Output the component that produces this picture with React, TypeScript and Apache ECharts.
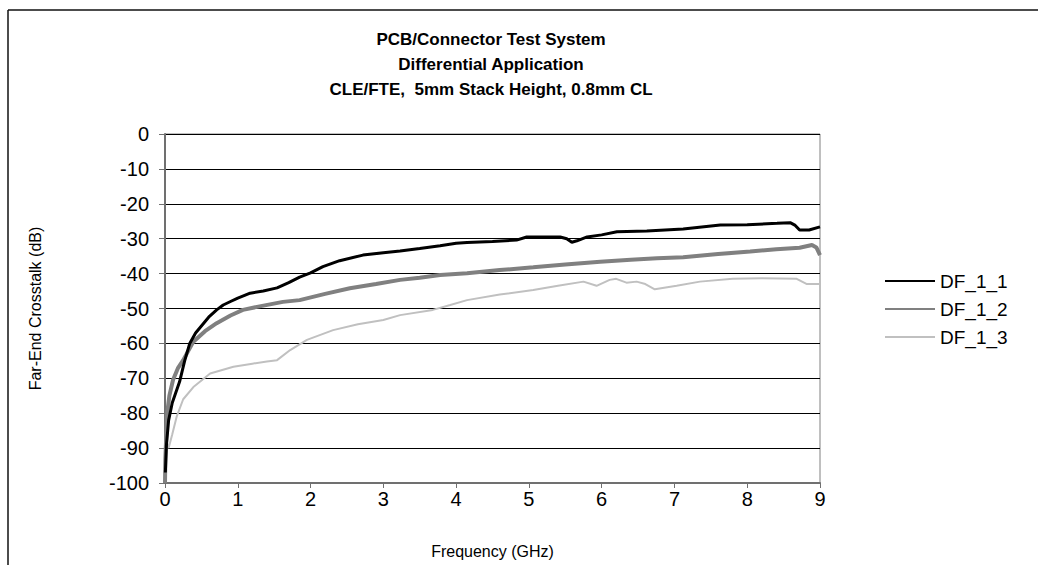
import React, { useEffect, useRef } from "react";
import * as echarts from "echarts";

const titleLines = [
  "PCB/Connector Test System",
  "Differential Application",
  "CLE/FTE,  5mm Stack Height, 0.8mm CL",
];
const xAxisName = "Frequency (GHz)";
const yAxisName = "Far-End Crosstalk (dB)";
const seriesNames = ["DF_1_1", "DF_1_2", "DF_1_3"];

const df11Freq = [0.005, 0.02, 0.05, 0.1, 0.15, 0.2, 0.27, 0.34, 0.42, 0.5, 0.6, 0.71, 0.8, 0.9, 1.0, 1.17, 1.35, 1.54, 1.7, 1.85, 2.0, 2.17, 2.4, 2.72, 3.0, 3.23, 3.5, 3.78, 4.0, 4.15, 4.5, 4.83, 4.97, 5.2, 5.43, 5.52, 5.59, 5.66, 5.8, 6.0, 6.21, 6.62, 7.12, 7.63, 8.0, 8.41, 8.59, 8.66, 8.72, 8.85, 9.0];
const df11Vals = [-97, -89, -82, -77, -74, -71, -65, -60, -57, -55, -52.5, -50.4, -49, -48, -47, -45.6, -45, -44.1, -42.6, -41, -39.8, -38, -36.3, -34.7, -34, -33.5, -32.8, -32, -31.3, -31.1, -30.8, -30.4, -29.5, -29.5, -29.5, -30, -31, -30.6, -29.5, -28.9, -28, -27.8, -27.2, -26.1, -26, -25.6, -25.4, -26.2, -27.5, -27.5, -26.6];

const df12Freq = [0.0, 0.005, 0.02, 0.03, 0.06, 0.11, 0.18, 0.25, 0.39, 0.55, 0.71, 0.9, 1.07, 1.3, 1.62, 1.85, 2.2, 2.54, 2.9, 3.23, 3.5, 3.78, 4.15, 4.6, 5.06, 5.5, 5.98, 6.4, 6.76, 7.12, 7.6, 8.04, 8.4, 8.72, 8.89, 8.95, 9.0];
const df12Vals = [-100, -93, -85, -80, -75, -70.5, -67, -64.8, -59.5, -56.5, -54.2, -52, -50.4, -49.4, -48.1, -47.6, -45.8, -44.2, -43, -41.8, -41.2, -40.4, -39.9, -39, -38.2, -37.4, -36.6, -36, -35.6, -35.3, -34.4, -33.7, -33, -32.6, -31.8, -32.5, -34.7];

const df13Freq = [0.0, 0.02, 0.05, 0.1, 0.16, 0.25, 0.39, 0.62, 0.94, 1.2, 1.4, 1.54, 1.72, 1.95, 2.31, 2.65, 3.0, 3.23, 3.68, 3.92, 4.15, 4.6, 5.06, 5.4, 5.75, 5.93, 6.11, 6.2, 6.34, 6.48, 6.6, 6.73, 7.03, 7.35, 7.8, 8.2, 8.68, 8.82, 9.0];
const df13Vals = [-92, -88, -90, -86, -81, -76, -72.5, -68.6, -66.7, -65.8, -65.2, -64.8, -61.9, -59, -56.2, -54.5, -53.3, -51.9, -50.4, -49, -47.6, -46, -44.7, -43.5, -42.3, -43.5, -41.8, -41.5, -42.6, -42.3, -43, -44.5, -43.5, -42.3, -41.5, -41.3, -41.5, -43, -43];

const pairs = (xs: number[], ys: number[]) => xs.map((x, i) => [x, ys[i]]);

const FONT = "'Liberation Sans', Arial, sans-serif";

export default function App() {
  const ref = useRef<HTMLDivElement>(null);
  useEffect(() => {
    if (!ref.current) return;
    const chart = echarts.init(ref.current, null, { renderer: "svg" });
    chart.setOption({
      animation: false,
      backgroundColor: "#ffffff",
      textStyle: { fontFamily: FONT },
      title: {
        text: titleLines.join("\n"),
        left: 486,
        top: 22,
        textAlign: "center",
        textStyle: { fontFamily: FONT, fontSize: 17, fontWeight: "bold", color: "#000", lineHeight: 25 },
      },
      graphic: [
        { type: "line", shape: { x1: 8, y1: 10, x2: 1038, y2: 10 }, style: { stroke: "#111", lineWidth: 1.5 } },
        { type: "line", shape: { x1: 8, y1: 10, x2: 8, y2: 565 }, style: { stroke: "#111", lineWidth: 1.5 } },
      ],
      legend: {
        orient: "vertical",
        left: 879,
        top: 266,
        itemWidth: 50,
        itemHeight: 14,
        itemGap: 8,
        data: seriesNames,
        itemStyle: { opacity: 0 },
        textStyle: { fontFamily: FONT, fontSize: 19, color: "#000", lineHeight: 20 },
      },
      grid: {
        left: 165,
        top: 134,
        width: 655,
        height: 349,
        show: true,
        borderColor: "#808080",
        borderWidth: 1,
      },
      xAxis: {
        type: "value",
        min: 0,
        max: 9,
        interval: 1,
        name: xAxisName,
        nameLocation: "middle",
        nameGap: 60,
        nameTextStyle: { fontFamily: FONT, fontSize: 16, color: "#000" },
        axisLine: { show: true, onZero: false, lineStyle: { color: "#707070", width: 2 } },
        axisTick: { show: true, inside: false, length: 5, lineStyle: { color: "#707070", width: 1 } },
        axisLabel: { fontFamily: FONT, fontSize: 20, color: "#000", margin: 6 },
        splitLine: { show: false },
      },
      yAxis: {
        type: "value",
        min: -100,
        max: 0,
        interval: 10,
        name: yAxisName,
        nameLocation: "middle",
        nameGap: 122,
        nameTextStyle: { fontFamily: FONT, fontSize: 16, color: "#000" },
        axisLine: { show: true, lineStyle: { color: "#707070", width: 2 } },
        axisTick: { show: true, inside: false, length: 6, lineStyle: { color: "#707070", width: 1 } },
        axisLabel: { fontFamily: FONT, fontSize: 20, color: "#000", margin: 16 },
        splitLine: { show: true, lineStyle: { color: "#000", width: 1 } },
      },
      series: [
        {
          name: seriesNames[0],
          type: "line",
          showSymbol: false,
          symbol: "none",
          data: pairs(df11Freq, df11Vals),
          lineStyle: { color: "#000000", width: 3 },
          itemStyle: { color: "#000000" },
          z: 4,
        },
        {
          name: seriesNames[1],
          type: "line",
          showSymbol: false,
          symbol: "none",
          data: pairs(df12Freq, df12Vals),
          lineStyle: { color: "#808080", width: 4 },
          itemStyle: { color: "#808080" },
          z: 3,
        },
        {
          name: seriesNames[2],
          type: "line",
          showSymbol: false,
          symbol: "none",
          data: pairs(df13Freq, df13Vals),
          lineStyle: { color: "#c0c0c0", width: 2 },
          itemStyle: { color: "#c0c0c0" },
          z: 2,
        },
      ],
    });
    return () => chart.dispose();
  }, []);
  return (
    <div
      ref={ref}
      style={{ position: "fixed", left: 0, top: 0, width: 1038, height: 565 }}
    />
  );
}
